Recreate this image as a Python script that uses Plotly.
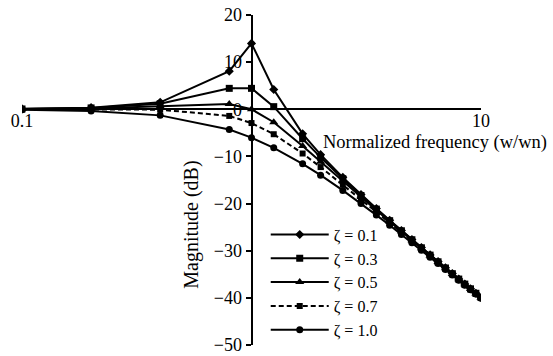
import plotly.graph_objects as go

# Normalized frequency (w/wn)
freq = [0.1, 0.2, 0.4, 0.8, 1.0, 1.25, 1.67, 2.0, 2.5, 3.0, 3.5, 4.0, 4.5, 5.0,
        5.5, 6.0, 6.5, 7.0, 7.5, 8.0, 8.5, 9.0, 9.5, 10.0]

# Magnitude (dB) for each damping ratio
mag_z01 = [0.09, 0.35, 1.48, 8.09, 13.98, 4.21, -5.20, -9.62, -14.44, -18.09, -21.04,
           -23.53, -25.70, -27.61, -29.33, -30.89, -32.31, -33.63, -34.84, -35.99,
           -37.06, -38.06, -39.02, -39.91]
mag_z03 = [0.07, 0.29, 1.17, 4.44, 4.44, 0.56, -6.24, -10.19, -14.74, -18.28, -21.17,
           -23.63, -25.77, -27.67, -29.38, -30.93, -32.35, -33.66, -34.87, -36.01,
           -37.08, -38.08, -39.03, -39.93]
mag_z05 = [0.04, 0.17, 0.63, 1.14, 0.00, -2.74, -7.77, -11.14, -15.29, -18.63, -21.42,
           -23.82, -25.92, -27.79, -29.47, -31.01, -32.42, -33.72, -34.92, -36.06,
           -37.12, -38.12, -39.06, -39.96]
mag_z07 = [0.00, 0.00, -0.08, -1.41, -2.92, -5.29, -9.38, -12.26, -16.00, -19.12, -21.78,
           -24.09, -26.13, -27.96, -29.61, -31.12, -32.51, -33.80, -34.99, -36.12,
           -37.18, -38.17, -39.11, -40.00]
mag_z10 = [-0.09, -0.34, -1.29, -4.30, -6.02, -8.17, -11.57, -13.98, -17.21, -20.00, -22.44,
           -24.61, -26.55, -28.30, -29.90, -31.36, -32.72, -33.98, -35.16, -36.26,
           -37.30, -38.28, -39.20, -40.09]

series_names = ["ζ = 0.1", "ζ = 0.3", "ζ = 0.5", "ζ = 0.7", "ζ = 1.0"]
series_vals = [mag_z01, mag_z03, mag_z05, mag_z07, mag_z10]
symbols = ["diamond", "square", "triangle-up", "square", "circle"]
sizes = [7, 7, 8, 6, 7]
dashes = ["solid", "solid", "solid", "5px,3px", "solid"]

x_ticks = [0.1, 10]
x_ticktext = ["0.1", "10"]
y_ticks = [20, 10, 0, -10, -20, -30, -40, -50]

FONT = "Liberation Serif"

fig = go.Figure()
for name, vals, sym, sz, dsh in zip(series_names, series_vals, symbols, sizes, dashes):
    fig.add_trace(go.Scatter(
        x=freq, y=vals, name=name, mode="lines+markers",
        line=dict(color="black", width=2, dash=dsh),
        marker=dict(symbol=sym, size=sz, color="black"),
    ))

fig.update_layout(
    width=553, height=356,
    margin=dict(l=22, r=72, t=15, b=11, autoexpand=False),
    paper_bgcolor="white", plot_bgcolor="white",
    font=dict(family=FONT, size=18, color="black"),
    showlegend=True,
    legend=dict(x=0.531, y=0.386, xanchor="left", yanchor="top",
                bgcolor="rgba(0,0,0,0)", font=dict(family=FONT, size=16),
                itemwidth=58, tracegroupgap=0),
    xaxis=dict(type="log", range=[-1, 1], anchor="free", position=50 / 70,
               automargin=False,
               showline=True, linecolor="black", linewidth=2,
               showgrid=False, zeroline=False,
               tickvals=x_ticks, ticktext=x_ticktext, ticks="inside",
               ticklen=5, tickwidth=2, tickcolor="black",
               ticklabelstandoff=-5,
               tickfont=dict(family=FONT, size=18)),
    yaxis=dict(range=[-50, 20], anchor="free", position=0.5,
               automargin=False,
               showline=True, linecolor="black", linewidth=2,
               showgrid=False, zeroline=False,
               tickvals=y_ticks, ticks="outside", ticklen=5, tickwidth=2,
               tickcolor="black", tickfont=dict(family=FONT, size=18)),
    annotations=[
        dict(text="Normalized frequency (w/wn)", xref="paper", yref="paper",
             x=0.652, y=0.615, xanchor="left", yanchor="middle", showarrow=False,
             font=dict(family=FONT, size=18.5)),
        dict(text="Magnitude (dB)", xref="paper", yref="paper",
             x=0.37, y=0.364, xanchor="center", yanchor="middle", textangle=-90,
             showarrow=False, font=dict(family=FONT, size=20)),
    ],
)

fig.write_html(
    "out.html",
    config={"displayModeBar": False},
    post_script="document.body.style.margin='0px';"
                "document.documentElement.style.margin='0px';",
)
